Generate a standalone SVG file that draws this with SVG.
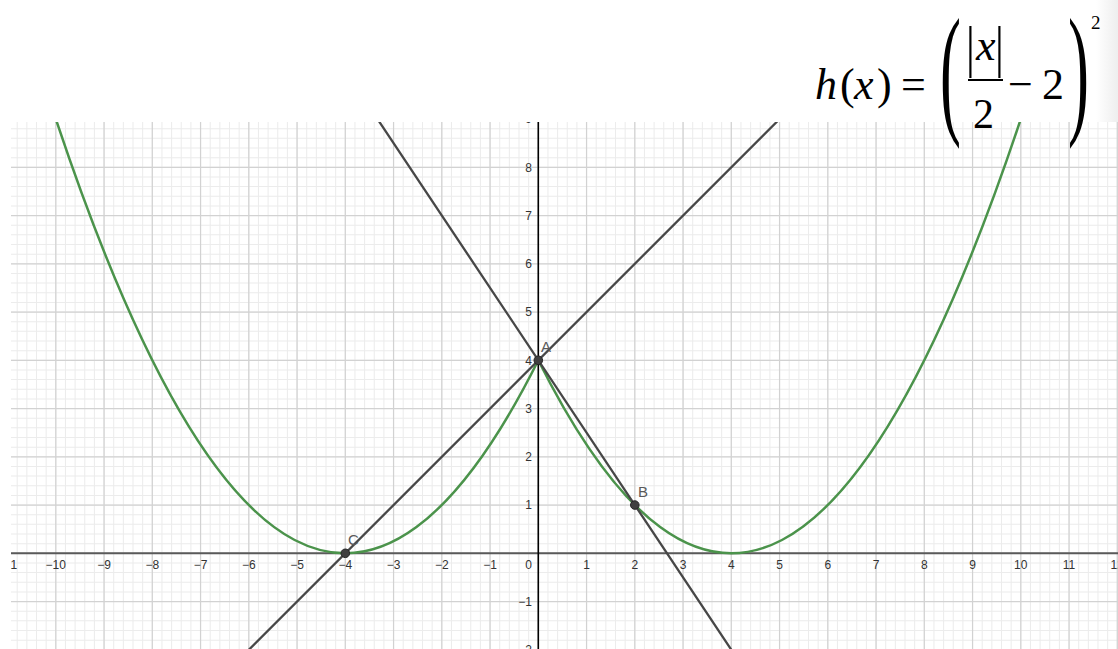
<svg xmlns="http://www.w3.org/2000/svg" width="1118" height="649" viewBox="0 0 1118 649">
  <style>
    .tick { font-family: "Liberation Sans", Arial, sans-serif; font-size: 12px; fill: #333333; }
    .tx { text-anchor: middle; }
    .ty { text-anchor: end; }
    .plabel { font-family: "Liberation Sans", Arial, sans-serif; font-size: 15px; fill: #5a5a5a; }
    .ln { stroke: #474747; stroke-width: 2.3; fill: none; stroke-linecap: round; }
    .curve { stroke: #4b934b; stroke-width: 2.5; fill: none; }
    .pt { fill: #404040; stroke: #262626; stroke-width: 1; }
    .fm { font-family: "Liberation Serif", "Times New Roman", serif; font-size: 44px; fill: #000; }
    .it { font-style: italic; }
  </style>
  <defs>
    <clipPath id="plot">
      <rect x="11" y="122" width="1107" height="527"/>
    </clipPath>
    <linearGradient id="edge" x1="0" y1="0" x2="1" y2="0">
      <stop offset="0" stop-color="#ffffff"/>
      <stop offset="1" stop-color="#eeeeee"/>
    </linearGradient>
  </defs>
  <rect x="0" y="0" width="1118" height="649" fill="#ffffff"/>
  <rect x="1096" y="0" width="22" height="122" fill="url(#edge)"/>

  <g id="grid" clip-path="url(#plot)">
    <line x1="16.7" y1="385.5" x2="1120" y2="385.5" stroke="#ececec" stroke-width="527" stroke-dasharray="1 8.65"/>
    <line x1="564.5" y1="640.65" x2="564.5" y2="120" stroke="#ececec" stroke-width="1107" stroke-dasharray="1 8.65"/>
    <line x1="55.2" y1="385.5" x2="1120" y2="385.5" stroke="#d2d2d2" stroke-width="527" stroke-dasharray="1.2 47.05"/>
    <line x1="564.5" y1="650.4" x2="564.5" y2="118" stroke="#d2d2d2" stroke-width="1107" stroke-dasharray="1.2 47.05"/>
  </g>

  <g id="axes" clip-path="url(#plot)">
    <line x1="11" y1="553.3" x2="1118" y2="553.3" stroke="#5a5a5a" stroke-width="2"/>
    <line x1="538.3" y1="122" x2="538.3" y2="649" stroke="#000000" stroke-width="1.6"/>
  </g>

  <g id="axis-labels" class="tick" clip-path="url(#plot)">
    <text class="tx" x="7.55" y="568.7">−11</text>
    <text class="tx" x="55.8" y="568.7">−10</text>
    <text class="tx" x="104.05" y="568.7">−9</text>
    <text class="tx" x="152.3" y="568.7">−8</text>
    <text class="tx" x="200.55" y="568.7">−7</text>
    <text class="tx" x="248.8" y="568.7">−6</text>
    <text class="tx" x="297.05" y="568.7">−5</text>
    <text class="tx" x="345.3" y="568.7">−4</text>
    <text class="tx" x="393.55" y="568.7">−3</text>
    <text class="tx" x="441.8" y="568.7">−2</text>
    <text class="tx" x="490.05" y="568.7">−1</text>
    <text class="ty" x="532" y="568.7">0</text>
    <text class="tx" x="586.55" y="568.7">1</text>
    <text class="tx" x="634.8" y="568.7">2</text>
    <text class="tx" x="683.05" y="568.7">3</text>
    <text class="tx" x="731.3" y="568.7">4</text>
    <text class="tx" x="779.55" y="568.7">5</text>
    <text class="tx" x="827.8" y="568.7">6</text>
    <text class="tx" x="876.05" y="568.7">7</text>
    <text class="tx" x="924.3" y="568.7">8</text>
    <text class="tx" x="972.55" y="568.7">9</text>
    <text class="tx" x="1020.8" y="568.7">10</text>
    <text class="tx" x="1069.05" y="568.7">11</text>
    <text class="tx" x="1117.3" y="568.7">12</text>
    <text class="ty" x="532" y="123.3">9</text>
    <text class="ty" x="532" y="171.6">8</text>
    <text class="ty" x="532" y="219.9">7</text>
    <text class="ty" x="532" y="268.1">6</text>
    <text class="ty" x="532" y="316.4">5</text>
    <text class="ty" x="532" y="364.6">4</text>
    <text class="ty" x="532" y="412.9">3</text>
    <text class="ty" x="532" y="461.1">2</text>
    <text class="ty" x="532" y="509.4">1</text>
    <text class="ty" x="532" y="605.9">−1</text>
    <text class="ty" x="532" y="654.1">−2</text>
  </g>

  <g id="curve-h" clip-path="url(#plot)">
    <path class="curve" d="M51,104.45 Q294.64,847.6 538.3,360.3 Q781.96,847.6 1025.6,104.45"/>
  </g>

  <g id="connectors" clip-path="url(#plot)">
    <line id="line-AC" class="ln" x1="224.7" y1="673.9" x2="803.7" y2="94.9"/>
    <line id="line-AB" class="ln" x1="359.8" y1="92.5" x2="745.8" y2="671.5"/>
  </g>

  <g id="point-A">
    <circle class="pt" cx="538.3" cy="360.3" r="4.3"/>
    <text class="plabel" x="541" y="352">A</text>
  </g>
  <g id="point-B">
    <circle class="pt" cx="634.8" cy="505.05" r="4.3"/>
    <text class="plabel" x="638" y="497">B</text>
  </g>
  <g id="point-C">
    <circle class="pt" cx="345.3" cy="553.3" r="4.3"/>
    <text class="plabel" x="348" y="545">C</text>
  </g>

  <g id="formula">
    <text class="fm it" x="815" y="98.5">h</text>
    <text class="fm" x="840" y="98.5">(</text>
    <text class="fm it" x="854" y="98.5">x</text>
    <text class="fm" x="877" y="98.5">)</text>
    <text class="fm" x="901" y="98.5">=</text>
    <text class="fm" transform="translate(940,117.5) scale(1.05,2.4)" style="font-size:60px">(</text>
    <text class="fm" transform="translate(966,66) scale(1,1.3)">|</text>
    <text class="fm it" x="976" y="60">x</text>
    <text class="fm" transform="translate(995,66) scale(1,1.3)">|</text>
    <line x1="968" y1="80" x2="1003" y2="80" stroke="#000" stroke-width="2"/>
    <text class="fm" x="973" y="128" style="font-size:42px">2</text>
    <text class="fm" x="1008" y="99">−</text>
    <text class="fm" x="1042" y="99">2</text>
    <text class="fm" transform="translate(1068,117.5) scale(1.05,2.4)" style="font-size:60px">)</text>
    <text class="fm" x="1091" y="29" style="font-size:19px">2</text>
  </g>
</svg>
